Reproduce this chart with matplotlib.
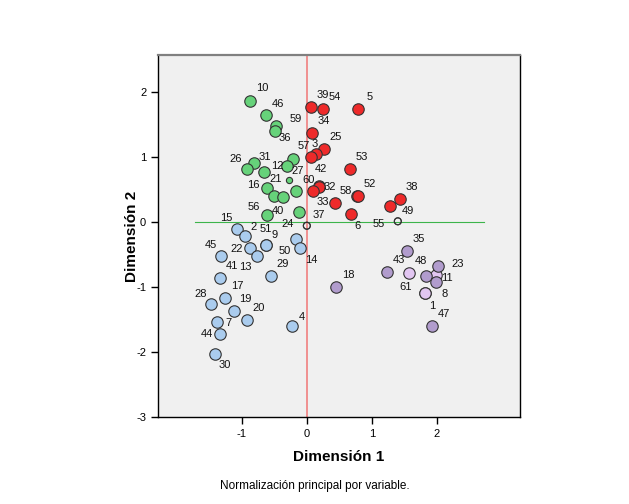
import matplotlib
matplotlib.use("Agg")
import matplotlib.pyplot as plt

plt.rcParams['font.family'] = ['Liberation Sans', 'DejaVu Sans']
plt.rcParams['axes.unicode_minus'] = False

# DATA (Dimension 1, Dimension 2, case label)
green_x = [-0.877, -0.635, -0.477, -0.492, -0.811, -0.918, -0.662, -0.220, -0.312, -0.174, -0.615, -0.508, -0.369, -0.620, -0.128]
green_y = [1.866, 1.642, 1.477, 1.405, 0.903, 0.811, 0.774, 0.969, 0.862, 0.482, 0.528, 0.405, 0.380, 0.103, 0.154]
green_lab = ["10", "46", "59", "36", "31", "26", "12", "", "27", "", "16", "", "", "56", "40"]

small_x = [-0.282]
small_y = [0.642]
small_lab = ["21"]

red_x = [0.057, 0.246, 0.789, 0.082, 0.266, 0.138, 0.057, 0.662, 0.18, 0.189, 0.088, 0.77, 0.780, 0.431, 0.677, 1.431, 1.282]
red_y = [1.765, 1.743, 1.738, 1.365, 1.123, 1.046, 1.005, 0.815, 0.55, 0.534, 0.472, 0.40, 0.395, 0.292, 0.128, 0.349, 0.246]
red_lab = ["39", "54", "5", "34", "25", "3", "57", "53", "42", "32", "60", "58", "52", "33", "6", "38", ""]

open_x = [0.0, 0.0, 1.40, 1.40]
open_y = [-0.057, -0.057, 0.011, 0.011]
open_lab = ["24", "37", "49", "55"]

blue_x = [-1.072, -0.958, -0.635, -0.635, -0.877, -0.774, -1.328, -0.169, -0.108, -0.558, -1.338, -1.262, -1.477, -1.128, -0.928, -1.385, -1.338, -1.411, -0.235]
blue_y = [-0.108, -0.211, -0.349, -0.349, -0.405, -0.528, -0.523, -0.266, -0.400, -0.831, -0.862, -1.165, -1.257, -1.369, -1.503, -1.543, -1.718, -2.026, -1.605]
blue_lab = ["15", "2", "51", "9", "22", "13", "45", "50", "14", "29", "41", "17", "28", "19", "20", "7", "44", "30", "4"]

lilac_x = [1.569, 1.985, 1.815, 1.815]
lilac_y = [-0.780, -0.820, -1.088, -1.088]
lilac_lab = ["48", "11", "61", "1"]

purple_x = [1.543, 1.226, 2.026, 1.835, 1.995, 1.928, 0.451]
purple_y = [-0.446, -0.765, -0.682, -0.831, -0.923, -1.600, -0.995]
purple_lab = ["35", "43", "23", "", "8", "47", "18"]

# label offsets in pixels (default is up-right)
offsets = {
    "10": (12, 13), "46": (12, 11), "59": (20, 7), "36": (10, -7), "31": (11, 6),
    "26": (-11, 10), "12": (14, 6), "27": (11, -5), "21": (-13, 1), "16": (-14, 3),
    "56": (-13, 8), "40": (-21, 1),
    "3": (-1, 10), "57": (-7, 11), "42": (2, 17), "32": (11, 0), "60": (-4, 11),
    "58": (-11, 5), "33": (-12, 1), "6": (7, -12),
    "24": (-19, 2), "37": (12, 11), "49": (10, 10), "55": (-19, -3),
    "15": (-11, 11), "2": (9, 9), "51": (0, 16), "9": (9, 10), "22": (-13, -1),
    "13": (-11, -11), "45": (-10, 11), "50": (-11, -12), "14": (11, -12),
    "28": (-10, 10), "7": (12, -1), "44": (-13, 0), "30": (10, -11), "4": (10, 9),
    "23": (19, 2), "11": (11, -3), "61": (-19, 6), "1": (7, -13), "8": (8, -12),
}

fig = plt.figure(figsize=(6.29, 5.04), dpi=100)
ax = fig.add_axes([0.2512, 0.1726, 0.5755, 0.7183])
ax.set_facecolor('#f0f0f0')

ax.axvline(0, color='#f08080', lw=1.2, zorder=1)
ax.plot([-1.72, 2.72], [0, 0], color='#3cb44b', lw=0.8, zorder=1)

edge = '#333333'
groups = [
    (green_x, green_y, green_lab, '#66d27a', 68),
    (small_x, small_y, small_lab, '#66d27a', 20),
    (red_x, red_y, red_lab, '#ee2a2a', 68),
    (open_x, open_y, open_lab, 'none', 25),
    (blue_x, blue_y, blue_lab, '#aaccee', 68),
    (lilac_x, lilac_y, lilac_lab, '#e2c6f2', 68),
    (purple_x, purple_y, purple_lab, '#b19ccd', 68),
]
for gx, gy, glab, col, size in groups:
    ax.scatter(gx, gy, s=size, c=col, edgecolors=edge, linewidths=0.8, zorder=3)
    for xx, yy, lab in zip(gx, gy, glab):
        if lab == "":
            continue
        dx, dy = offsets.get(lab, (12, 12))
        ax.annotate(lab, (xx, yy), xytext=(dx, dy), textcoords='offset pixels',
                    ha='center', va='center', fontsize=8, color='#111111', zorder=4)

ax.set_xlim(-2.29, 3.28)
ax.set_ylim(-3, 2.57)
ax.set_xticks([-1, 0, 1, 2])
ax.set_yticks([-3, -2, -1, 0, 1, 2])
ax.tick_params(direction='out', length=5, width=1, labelsize=8, colors='black')
for side in ['left', 'right', 'bottom']:
    ax.spines[side].set_color('black')
    ax.spines[side].set_linewidth(1)
ax.spines['top'].set_color('#808080')
ax.spines['top'].set_linewidth(1.6)

ax.set_xlabel('Dimensión 1', fontsize=11, fontweight='bold', labelpad=8)
ax.set_ylabel('Dimensión 2', fontsize=11, fontweight='bold', labelpad=-2)

fig.text(0.5, 0.035, 'Normalización principal por variable.', ha='center', va='center', fontsize=8.5)

fig.savefig('out.png', dpi=100)
